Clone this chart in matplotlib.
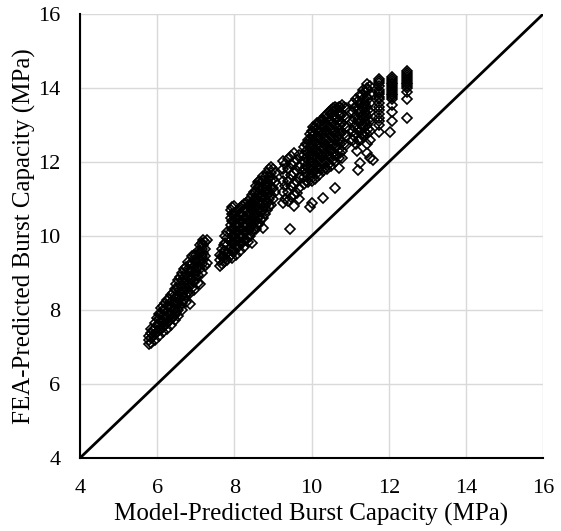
import matplotlib
matplotlib.use('Agg')
import matplotlib.pyplot as plt

plt.rcParams['font.family'] = ['Liberation Serif', 'DejaVu Serif']

# Each entry: (model-predicted value, [FEA-predicted values read at that x])
# Group A: lowest band (model ~5.8-7.3 MPa)
group_a = [
    (5.78, [7.08, 7.20, 7.30]),
    (5.85, [7.12, 7.25, 7.38, 7.50]),
    (5.90, [7.30, 7.45]),
    (5.95, [7.20, 7.35, 7.50, 7.65]),
    (6.00, [7.40, 7.60, 7.78]),
    (6.05, [7.30, 7.45, 7.60, 7.75, 7.90]),
    (6.10, [7.50, 7.70, 7.90, 8.05]),
    (6.15, [7.40, 7.55, 7.70, 7.85, 8.00, 8.12]),
    (6.20, [7.60, 7.80, 8.00, 8.20]),
    (6.25, [7.50, 7.65, 7.80, 7.95, 8.10, 8.26]),
    (6.30, [7.70, 7.90, 8.10, 8.30]),
    (6.35, [7.60, 7.75, 7.90, 8.05, 8.22, 8.40]),
    (6.40, [7.80, 8.00, 8.20, 8.45]),
    (6.45, [7.72, 7.86, 8.02, 8.20, 8.40, 8.58]),
    (6.50, [7.95, 8.15, 8.35, 8.55, 8.70]),
    (6.55, [7.85, 8.00, 8.20, 8.40, 8.60, 8.80]),
    (6.60, [8.10, 8.30, 8.50, 8.70, 8.90]),
    (6.65, [8.00, 8.20, 8.40, 8.60, 8.80, 9.00]),
    (6.70, [8.30, 8.50, 8.70, 8.90, 9.10]),
    (6.75, [8.22, 8.40, 8.60, 8.80, 9.00, 9.15]),
    (6.80, [8.50, 8.70, 8.90, 9.10, 9.30]),
    (6.85, [8.17, 8.45, 8.65, 8.85, 9.05, 9.25]),
    (6.90, [8.60, 8.85, 9.05, 9.25, 9.45]),
    (6.95, [8.55, 8.75, 8.95, 9.15, 9.35, 9.50]),
    (7.00, [8.85, 9.05, 9.30, 9.50]),
    (7.05, [8.72, 8.95, 9.20, 9.40, 9.60]),
    (7.10, [8.70, 9.10, 9.35, 9.55, 9.75]),
    (7.15, [9.00, 9.25, 9.45, 9.65, 9.80]),
    (7.20, [9.35, 9.55, 9.75, 9.90]),
    (7.25, [9.20, 9.45, 9.65, 9.85]),
    (7.30, [9.28, 9.88]),
]

# Group B: middle band (model ~7.6-9.1 MPa)
group_b = [
    (7.62, [9.18, 9.35, 9.50]),
    (7.67, [9.25, 9.45, 9.65]),
    (7.72, [9.30, 9.45, 9.60, 9.75]),
    (7.77, [9.40, 9.60, 9.80, 10.00]),
    (7.82, [9.36, 9.55, 9.75, 9.95, 10.10]),
    (7.90, [9.50, 9.70, 9.90, 10.10, 10.30, 10.50, 10.70]),
    (7.95, [9.40, 9.60, 9.80, 10.00, 10.20, 10.40, 10.60, 10.78]),
    (8.00, [9.60, 9.80, 10.00, 10.20, 10.40, 10.60, 10.80]),
    (8.05, [9.50, 9.70, 9.90, 10.10, 10.30, 10.50, 10.66]),
    (8.10, [9.70, 9.90, 10.10, 10.30, 10.50, 10.70]),
    (8.15, [9.60, 9.80, 10.00, 10.20, 10.40, 10.60, 10.76]),
    (8.20, [9.80, 10.00, 10.20, 10.40, 10.60, 10.80]),
    (8.25, [9.70, 9.90, 10.10, 10.30, 10.50, 10.70, 10.86]),
    (8.30, [9.90, 10.10, 10.30, 10.50, 10.70, 10.90]),
    (8.35, [9.85, 10.00, 10.20, 10.40, 10.60, 10.80, 10.96]),
    (8.40, [10.00, 10.20, 10.40, 10.60, 10.80, 11.00]),
    (8.46, [9.80, 10.10, 10.30, 10.50, 10.70, 10.90, 11.10]),
    (8.50, [10.20, 10.40, 10.60, 10.80, 11.00, 11.20]),
    (8.55, [10.20, 10.40, 10.60, 10.80, 11.00, 11.20, 11.36]),
    (8.60, [10.30, 10.50, 10.70, 10.90, 11.10, 11.30, 11.45]),
    (8.65, [10.35, 10.55, 10.75, 10.95, 11.15, 11.35, 11.50]),
    (8.70, [10.45, 10.65, 10.85, 11.05, 11.25, 11.45]),
    (8.75, [10.22, 10.50, 10.70, 10.90, 11.10, 11.30, 11.50, 11.62]),
    (8.80, [10.60, 10.80, 11.00, 11.20, 11.40, 11.60]),
    (8.85, [10.70, 10.90, 11.10, 11.30, 11.50, 11.70]),
    (8.90, [10.80, 11.00, 11.20, 11.40, 11.60, 11.80]),
    (8.95, [10.85, 11.10, 11.30, 11.50, 11.70, 11.86]),
    (9.00, [11.00, 11.30, 11.55, 11.80]),
    (9.05, [11.20, 11.45, 11.70]),
]

# Group C: upper band (model ~9.2-10.9 MPa)
group_c = [
    (9.25, [10.90, 11.20, 11.50, 11.80, 12.02]),
    (9.32, [11.00, 11.35, 11.65, 11.95]),
    (9.40, [10.95, 11.20, 11.50, 11.80, 12.08]),
    (9.44, [10.20]),
    (9.48, [11.05, 11.35, 11.65, 11.95, 12.15]),
    (9.55, [10.80, 11.10, 11.40, 11.70, 12.00, 12.25]),
    (9.62, [11.15, 11.45, 11.75, 12.05]),
    (9.68, [11.00, 11.30, 11.60, 11.90, 12.20]),
    (9.80, [11.40, 11.60, 11.80, 12.00, 12.20, 12.40]),
    (9.85, [11.50, 11.70, 11.90, 12.10, 12.30, 12.50]),
    (9.90, [11.45, 11.65, 11.85, 12.05, 12.25, 12.45, 12.60]),
    (9.96, [10.78, 11.60, 11.80, 12.00, 12.20, 12.40, 12.60, 12.75]),
    (10.01, [10.90, 11.50, 11.70, 11.90, 12.10, 12.30, 12.50, 12.70, 12.85]),
    (10.05, [11.60, 11.80, 12.00, 12.20, 12.40, 12.60, 12.80, 12.95]),
    (10.10, [11.55, 11.75, 11.95, 12.15, 12.35, 12.55, 12.75, 12.95]),
    (10.15, [11.70, 11.90, 12.10, 12.30, 12.50, 12.70, 12.90, 13.05]),
    (10.20, [11.65, 11.85, 12.05, 12.25, 12.45, 12.65, 12.85, 13.05]),
    (10.25, [11.80, 12.00, 12.20, 12.40, 12.60, 12.80, 13.00, 13.15]),
    (10.29, [11.03, 11.75, 11.95, 12.15, 12.35, 12.55, 12.75, 12.95, 13.15]),
    (10.35, [11.85, 12.05, 12.25, 12.45, 12.65, 12.85, 13.05, 13.25]),
    (10.40, [11.80, 12.00, 12.20, 12.40, 12.60, 12.80, 13.00, 13.20, 13.30]),
    (10.45, [11.95, 12.15, 12.35, 12.55, 12.75, 12.95, 13.15, 13.35]),
    (10.50, [11.90, 12.10, 12.30, 12.50, 12.70, 12.90, 13.10, 13.30, 13.40]),
    (10.55, [12.05, 12.25, 12.45, 12.65, 12.85, 13.05, 13.25, 13.45]),
    (10.60, [11.30, 12.00, 12.20, 12.40, 12.60, 12.80, 13.00, 13.20, 13.40, 13.50]),
    (10.65, [12.20, 12.45, 12.70, 12.95, 13.20, 13.45]),
    (10.70, [11.84, 12.10, 12.35, 12.60, 12.85, 13.10, 13.30, 13.50]),
    (10.75, [12.25, 12.50, 12.75, 13.00, 13.25, 13.50]),
    (10.80, [12.10, 12.30, 12.55, 12.80, 13.05, 13.30, 13.55]),
    (10.85, [12.50, 12.75, 13.00, 13.25, 13.50]),
    (10.88, [12.45, 12.70, 12.95, 13.20, 13.45]),
]

# Group D: highest model values (~11.0-12.5 MPa), mostly in columns
group_d = [
    (11.07, [12.60, 12.85, 13.10, 13.35, 13.60]),
    (11.10, [12.70, 12.95, 13.20, 13.45]),
    (11.15, [12.50, 12.75, 13.00, 13.25, 13.50, 13.70]),
    (11.18, [12.30]),
    (11.20, [11.78, 12.60, 12.90, 13.15, 13.40, 13.65]),
    (11.25, [11.97, 12.60, 12.85, 13.10, 13.35, 13.60, 13.80]),
    (11.30, [12.75, 13.00, 13.25, 13.50, 13.80]),
    (11.33, [12.70, 12.95, 13.20, 13.45, 13.70, 13.95]),
    (11.38, [12.80, 13.10, 13.35, 13.60, 13.90]),
    (11.43, [12.25, 12.50, 12.75, 13.00, 13.25, 13.50, 13.75, 14.00, 14.10]),
    (11.47, [12.90, 13.15, 13.40, 13.70, 13.95]),
    (11.52, [12.10, 12.60, 12.85, 13.10, 13.35, 13.60, 13.85, 14.05]),
    (11.60, [12.05]),
    (11.75, [12.80, 13.00, 13.10, 13.20, 13.30, 13.40, 13.50, 13.60, 13.70,
             13.75, 13.85, 13.90, 13.95, 14.05, 14.15, 14.20, 14.25]),
    (12.03, [12.80]),
    (12.08, [13.10, 13.35, 13.55, 13.70, 13.75, 13.80, 13.85, 13.90, 13.95,
             14.00, 14.05, 14.10, 14.15, 14.20, 14.25, 14.30]),
    (12.47, [13.20, 13.70, 13.90, 14.00, 14.05, 14.10, 14.15, 14.20, 14.25,
             14.30, 14.35, 14.40, 14.45]),
]

ticks = [4, 6, 8, 10, 12, 14, 16]

fig = plt.figure(figsize=(5.61, 5.31), dpi=100)
ax = fig.add_axes([0.1426, 0.1375, 0.8255, 0.836])

ax.grid(True, color='#d9d9d9', linewidth=1.0)
ax.set_axisbelow(True)

# 1:1 line
ax.plot([4, 16], [4, 16], color='black', linewidth=2.0, zorder=3)

for group in [group_a, group_b, group_c, group_d]:
    xs = [x for x, ys in group for _ in ys]
    ys = [y for _, col in group for y in col]
    ax.plot(xs, ys, 'D', markerfacecolor='none', markeredgecolor='black',
            markersize=5.0, markeredgewidth=1.2, zorder=4)

ax.set_xlim(4, 16)
ax.set_ylim(4, 16)
ax.set_xticks(ticks)
ax.set_yticks(ticks)
ax.tick_params(axis='x', length=0, labelsize=16, pad=15)
ax.tick_params(axis='y', length=0, labelsize=16, pad=14)

ax.spines['top'].set_visible(False)
ax.spines['right'].set_visible(False)
ax.spines['left'].set_linewidth(1.5)
ax.spines['bottom'].set_linewidth(1.5)

ax.set_xlabel("Model-Predicted Burst Capacity (MPa)", fontsize=18, labelpad=4)
ax.set_ylabel("FEA-Predicted Burst Capacity (MPa)", fontsize=18, labelpad=2)

plt.savefig('out.png', dpi=100)
plt.close()
